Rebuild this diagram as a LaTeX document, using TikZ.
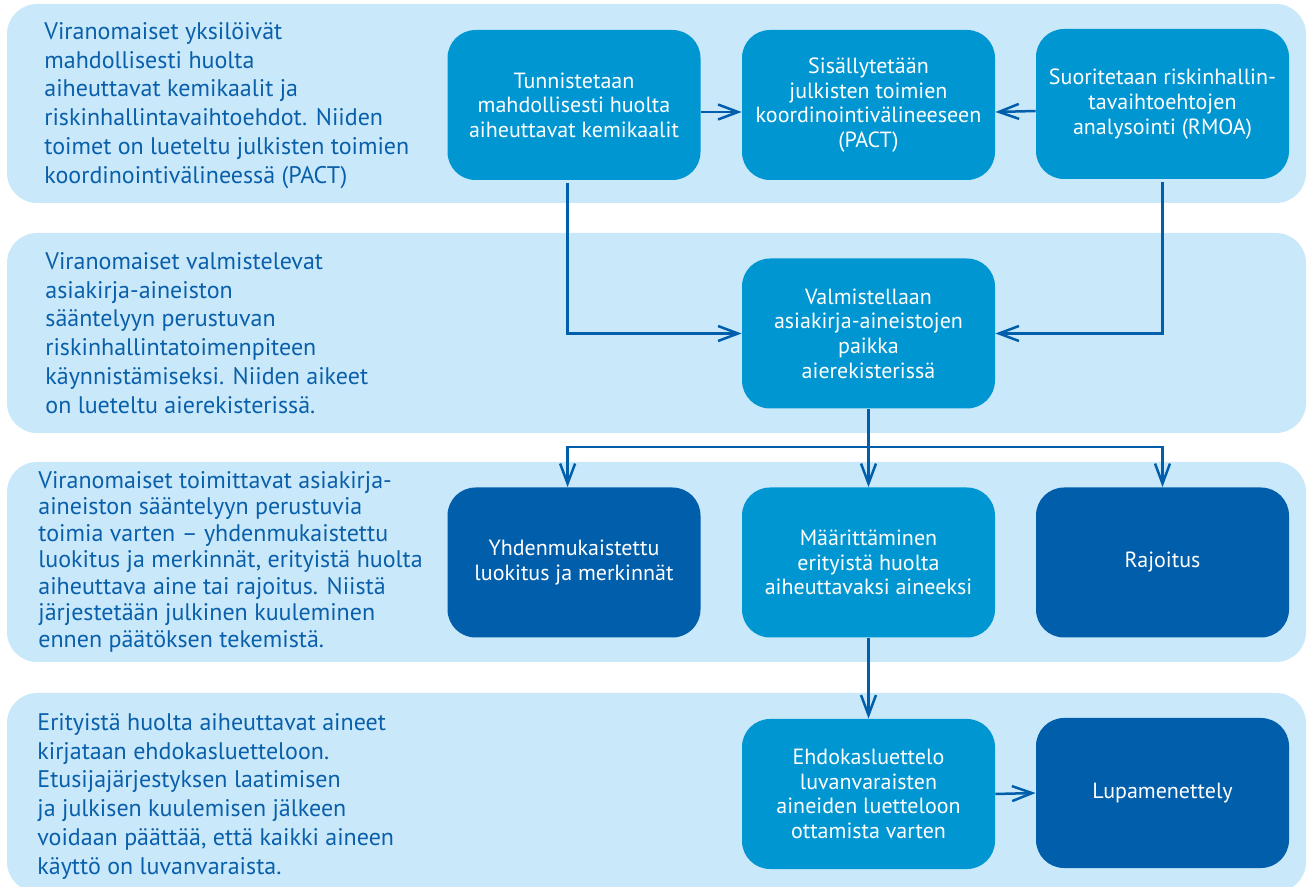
\documentclass[tikz,border=0pt]{standalone}
\usepackage{fontspec}
\setmainfont{PT Sans}
\usetikzlibrary{arrows.meta}
\definecolor{bandblue}{HTML}{C9E9FA}
\definecolor{midblue}{HTML}{0096D2}
\definecolor{darkblue}{HTML}{005EAA}
\definecolor{textblue}{HTML}{0A5FAA}
\begin{document}
\begin{tikzpicture}[
        x=0.5pt,
        y=-0.5pt,
        band/.style={fill=bandblue, rounded corners=15pt},
        stepbox/.style={rounded corners=14pt, minimum width=126.5pt, minimum height=75pt,
            inner sep=0pt, text=white, align=center, font=\fontsize{11}{12.3}\selectfont},
        midbox/.style={stepbox, fill=midblue},
        darkbox/.style={stepbox, fill=darkblue},
        sidetext/.style={anchor=north west, inner sep=0pt, align=left, text=textblue},
        arr/.style={draw=darkblue, line width=1.25pt, -{Straight Barb[length=10pt, width=7.5pt]}}]
\useasboundingbox (0,0) rectangle (1308,887);
\foreach \Top/\Bottom in {4/203, 233/433, 462/662, 693/892}{
    \fill[band] (7,\Top) rectangle (1306,\Bottom);
}
% texts on the left
\node (identifytext) [sidetext, font=\fontsize{12}{14.4}\selectfont] at (44,22)
    {Viranomaiset yksilöivät\\mahdollisesti huolta\\aiheuttavat kemikaalit ja\\riskinhallintavaihtoehdot. Niiden\\toimet on lueteltu julkisten toimien\\koordinointivälineessä (PACT)};
\node (preparetext) [sidetext, font=\fontsize{12}{14.4}\selectfont] at (45,252)
    {Viranomaiset valmistelevat\\asiakirja-aineiston\\sääntelyyn perustuvan\\riskinhallintatoimenpiteen\\käynnistämiseksi. Niiden aikeet\\on lueteltu aierekisterissä.};
\node (submittext) [sidetext, font=\fontsize{12}{13.25}\selectfont] at (38,471)
    {Viranomaiset toimittavat asiakirja-\\aineiston sääntelyyn perustuvia\\toimia varten – yhdenmukaistettu\\luokitus ja merkinnät, erityistä huolta\\aiheuttava aine tai rajoitus. Niistä\\järjestetään julkinen kuuleminen\\ennen päätöksen tekemistä.};
\node (candidatetext) [sidetext, font=\fontsize{12}{14.4}\selectfont] at (37,713)
    {Erityistä huolta aiheuttavat aineet\\kirjataan ehdokasluetteloon.\\Etusijajärjestyksen laatimisen\\ja julkisen kuulemisen jälkeen\\voidaan päättää, että kaikki aineen\\käyttö on luvanvaraista.};
% boxes
\node (identify) [midbox] at (574,105) {Tunnistetaan\\mahdollisesti huolta\\aiheuttavat kemikaalit};
\node (pact) [midbox] at (868.5,105) {Sisällytetään\\julkisten toimien\\koordinointivälineeseen\\(PACT)};
\node (rmoa) [midbox] at (1162.5,104) {Suoritetaan riskinhallin-\\tavaihtoehtojen\\analysointi (RMOA)};
\node (prepare) [midbox] at (868.5,333.5) {Valmistellaan\\asiakirja-aineistojen\\paikka\\aierekisterissä};
\node (clh) [darkbox] at (574,562.5) {Yhdenmukaistettu\\luokitus ja merkinnät};
\node (svhc) [midbox] at (868.5,562.5) {Määrittäminen\\erityistä huolta\\aiheuttavaksi aineeksi};
\node (restrict) [darkbox] at (1162.5,562.5) {Rajoitus};
\node (candidate) [midbox] at (868.5,794) {Ehdokasluettelo\\luvanvaraisten\\aineiden luetteloon\\ottamista varten};
\node (authorise) [darkbox] at (1162.5,793) {Lupamenettely};
% connectors
\draw[arr] ([yshift=-3.5pt]identify.east) -- ([yshift=-3.5pt]pact.west);
\draw[arr] ([yshift=-3.5pt]rmoa.west) -- ([yshift=-3.5pt]pact.east);
\draw[arr] ([xshift=-3.2pt, yshift=-1.5pt]identify.south) |- (prepare.west);
\draw[arr] ([yshift=-1.5pt]rmoa.south) |- (prepare.east);
\coordinate (fork) at (868.5,447);
\draw[draw=darkblue, line width=1.25pt] (prepare.south) -- (fork);
\draw[arr] (fork) -| ([xshift=-3.2pt]clh.north);
\draw[arr] (fork) -| (restrict.north);
\draw[arr] (fork) -- (svhc.north);
\draw[arr] (svhc.south) -- (candidate.north);
\draw[arr] (candidate.east) -- (authorise.west);
\end{tikzpicture}
\end{document}
